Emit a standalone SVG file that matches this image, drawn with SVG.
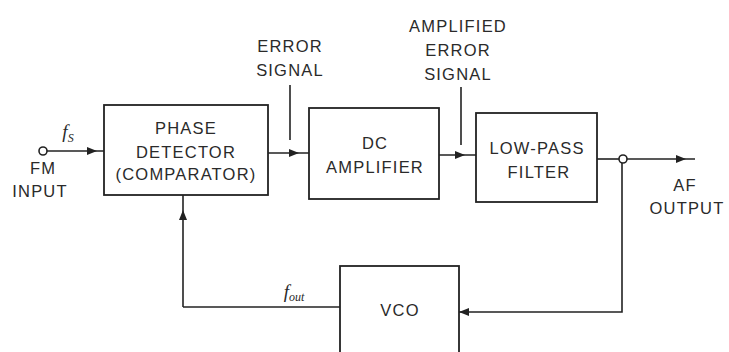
<svg xmlns="http://www.w3.org/2000/svg" width="729" height="352" viewBox="0 0 729 352">
<style>
.box{fill:none;stroke:#222;stroke-width:1.8}
.ln{fill:none;stroke:#222;stroke-width:1.6}
text{font-family:"Liberation Sans",Arial,sans-serif;font-size:16.5px;fill:#2a2a2a;text-anchor:middle;letter-spacing:1.2px}
.it{font-style:italic;font-family:"Liberation Serif",serif;font-size:19px;letter-spacing:0}
.sub{font-size:12px;letter-spacing:0}
</style>
<defs>
<marker id="ar" viewBox="0 0 10 8" refX="10" refY="4" markerWidth="10" markerHeight="8" markerUnits="userSpaceOnUse" orient="auto">
<path d="M0,0 L10,4 L0,8 Z" fill="#222"/>
</marker>
</defs>
<rect width="729" height="352" fill="#fff"/>

<g id="connectors">
<circle cx="43" cy="151" r="4" fill="#fff" stroke="#222" stroke-width="1.6"/>
<path class="ln" d="M47 151 L97 151 L104 151" marker-mid="url(#ar)"/>
<path class="ln" d="M268 153 L299 153 L309 153" marker-mid="url(#ar)"/>
<path class="ln" d="M439 155 L465 155 L476 155" marker-mid="url(#ar)"/>
<path class="ln" d="M597 159 L619 159"/>
<path class="ln" d="M627 159 L686 159 L695 159" marker-mid="url(#ar)"/>
<circle cx="623" cy="159" r="4" fill="#fff" stroke="#222" stroke-width="1.6"/>
<path class="ln" d="M622 163 L622 312 L459 312" marker-end="url(#ar)"/>
<path class="ln" d="M340 307 L183 307"/>
<path class="ln" d="M183 307 L183 210 L183 195" marker-mid="url(#ar)"/>
<line class="ln" x1="290" y1="85" x2="290" y2="140"/>
<line class="ln" x1="461" y1="87" x2="461" y2="145"/>
</g>

<g id="labels">
<text class="it" x="68" y="138">f<tspan class="sub" dy="4">S</tspan></text>
<text x="43" y="174">FM</text>
<text x="40" y="197">INPUT</text>
<text x="290" y="52">ERROR</text>
<text x="290" y="76">SIGNAL</text>
<text x="458" y="32">AMPLIFIED</text>
<text x="458" y="56">ERROR</text>
<text x="458" y="80">SIGNAL</text>
<text x="685" y="191">AF</text>
<text x="687" y="214">OUTPUT</text>
<text class="it" x="294" y="298">f<tspan class="sub" dy="3">out</tspan></text>
</g>

<g id="phase-detector">
<rect class="box" x="104" y="105" width="164" height="90"/>
<text x="186" y="134">PHASE</text>
<text x="186" y="158">DETECTOR</text>
<text x="186" y="180">(COMPARATOR)</text>
</g>

<g id="dc-amplifier">
<rect class="box" x="309" y="108" width="130" height="91"/>
<text x="375" y="149">DC</text>
<text x="375" y="173">AMPLIFIER</text>
</g>

<g id="low-pass-filter">
<rect class="box" x="476" y="113" width="121" height="89"/>
<text x="537" y="154">LOW-PASS</text>
<text x="539" y="178">FILTER</text>
</g>

<g id="vco">
<rect class="box" x="340" y="266" width="119" height="100"/>
<text x="400" y="316">VCO</text>
</g>
</svg>
